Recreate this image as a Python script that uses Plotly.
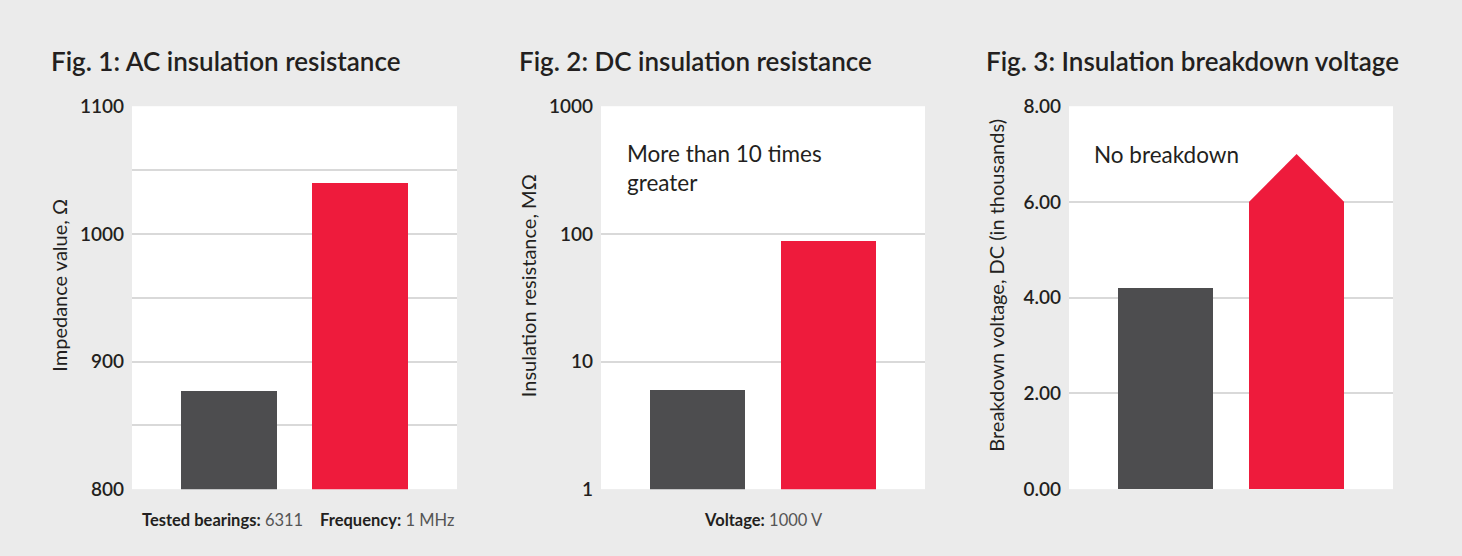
import plotly.graph_objects as go

# ---- data ----
categories = ["Standard bearing", "Insulated bearing"]
ac_impedance = [877, 1040]          # Ω
dc_resistance = [6.0, 88]           # MΩ (log scale)
breakdown_voltage = [4.2, 6.0]      # kV DC (in thousands)
breakdown_arrow_tip = 7.0           # "no breakdown" arrow head
bar_colors = ["#4d4d4f", "#ee1b3c"]

ac_ticks = [800, 850, 900, 950, 1000, 1050, 1100]
ac_ticktext = ["800", "", "900", "", "1000", "", "1100"]
dc_ticks = [1, 10, 100, 1000]
dc_ticktext = ["1", "10", "100", "1000"]
bd_ticks = [0, 2, 4, 6, 8]
bd_ticktext = ["0.00", "2.00", "4.00", "6.00", "8.00"]

# ---- layout constants ----
W, H = 1462, 556
BG = "#ebebeb"
TXT = "#231f20"
FONT = "Lato"
xpos = [0, 1]
bar_w = 0.727
xr = [-0.735, 1.735]

# rendered paper area spans roughly y = 11.5 .. 546 in the photographed page
PAPER_TOP, PAPER_H = 11.5, 534.5

def px(x):
    return x / W

def py(y):
    return 1 - (y - PAPER_TOP) / PAPER_H

y_dom = [py(490), py(106)]
domains = [[px(132), px(457)], [px(601), px(925)], [px(1069), px(1393)]]

fig = go.Figure()
fig.add_trace(go.Bar(x=xpos, y=ac_impedance, width=bar_w, marker=dict(color=bar_colors, line=dict(width=0)),
                     xaxis="x", yaxis="y", hoverinfo="skip", showlegend=False))
fig.add_trace(go.Bar(x=xpos, y=dc_resistance, width=bar_w, marker=dict(color=bar_colors, line=dict(width=0)),
                     xaxis="x2", yaxis="y2", hoverinfo="skip", showlegend=False))
fig.add_trace(go.Bar(x=xpos, y=breakdown_voltage, width=bar_w, marker=dict(color=bar_colors, line=dict(width=0)),
                     xaxis="x3", yaxis="y3", hoverinfo="skip", showlegend=False))
# arrow head on the insulated bar
cx = xpos[1]
fig.add_trace(go.Scatter(
    x=[cx - bar_w / 2, cx, cx + bar_w / 2, cx - bar_w / 2],
    y=[breakdown_voltage[1], breakdown_arrow_tip, breakdown_voltage[1], breakdown_voltage[1]],
    fill="toself", fillcolor=bar_colors[1], mode="lines", line=dict(width=0, color=bar_colors[1]),
    xaxis="x3", yaxis="y3", hoverinfo="skip", showlegend=False))

tickfont = dict(family=FONT, size=19, color=TXT, weight=600)
grid = dict(showgrid=True, gridcolor="#d9d9d9", gridwidth=1.5, zeroline=False, showline=False,
            ticks="", tickfont=tickfont, ticklabelstandoff=7)
xcommon = dict(range=xr, showgrid=False, zeroline=False, showticklabels=False, showline=False, fixedrange=True)

fig.update_layout(
    width=W, height=H, margin=dict(l=0, r=0, t=0, b=0),
    paper_bgcolor=BG, plot_bgcolor="white", bargap=0,
    xaxis=dict(domain=domains[0], anchor="y", **xcommon),
    xaxis2=dict(domain=domains[1], anchor="y2", **xcommon),
    xaxis3=dict(domain=domains[2], anchor="y3", **xcommon),
    yaxis=dict(domain=y_dom, anchor="x", range=[800, 1100], tickvals=ac_ticks,
               ticktext=ac_ticktext, **grid),
    yaxis2=dict(domain=y_dom, anchor="x2", type="log", range=[0, 3], tickvals=dc_ticks,
                ticktext=dc_ticktext, **grid),
    yaxis3=dict(domain=y_dom, anchor="x3", range=[0, 8], tickvals=bd_ticks,
                ticktext=bd_ticktext, **grid),
)

ann = []
titles = [("Fig. 1: AC insulation resistance", 49),
          ("Fig. 2: DC insulation resistance", 517),
          ("Fig. 3: Insulation breakdown voltage", 984)]
for t, x in titles:
    ann.append(dict(text=t, x=px(x), y=py(61), xref="paper", yref="paper", xanchor="left", yanchor="middle",
                    showarrow=False, font=dict(family=FONT, size=26, color=TXT, weight=600)))
ytitles = [("Impedance value, Ω", 59), ("Insulation resistance, MΩ", 527.5),
           ("Breakdown voltage, DC (in thousands)", 996)]
for t, x in ytitles:
    ann.append(dict(text=t, x=px(x), y=py(286), xref="paper", yref="paper", xanchor="center", yanchor="middle",
                    textangle=-90, showarrow=False, font=dict(family=FONT, size=20, color=TXT)))
ann.append(dict(text="More than 10 times<br>greater", x=px(625), y=py(168), xref="paper", yref="paper",
                xanchor="left", yanchor="middle", align="left", showarrow=False,
                font=dict(family=FONT, size=22.5, color=TXT)))
ann.append(dict(text="No breakdown", x=px(1092), y=py(154), xref="paper", yref="paper",
                xanchor="left", yanchor="middle", align="left", showarrow=False,
                font=dict(family=FONT, size=22.5, color=TXT)))
note1 = ("<b>Tested bearings:</b> <span style='color:#555'>6311</span>&nbsp;&nbsp;&nbsp;&nbsp;"
         "<b>Frequency:</b> <span style='color:#555'>1 MHz</span>")
ann.append(dict(text=note1, x=px(297.5), y=py(521), xref="paper", yref="paper", xanchor="center",
                yanchor="middle", showarrow=False, font=dict(family=FONT, size=16.5, color=TXT)))
ann.append(dict(text="<b>Voltage:</b> <span style='color:#555'>1000 V</span>", x=px(763), y=py(521),
                xref="paper", yref="paper", xanchor="center", yanchor="middle", showarrow=False,
                font=dict(family=FONT, size=16.5, color=TXT)))
fig.update_layout(annotations=ann)

fig.write_html("out.html")
